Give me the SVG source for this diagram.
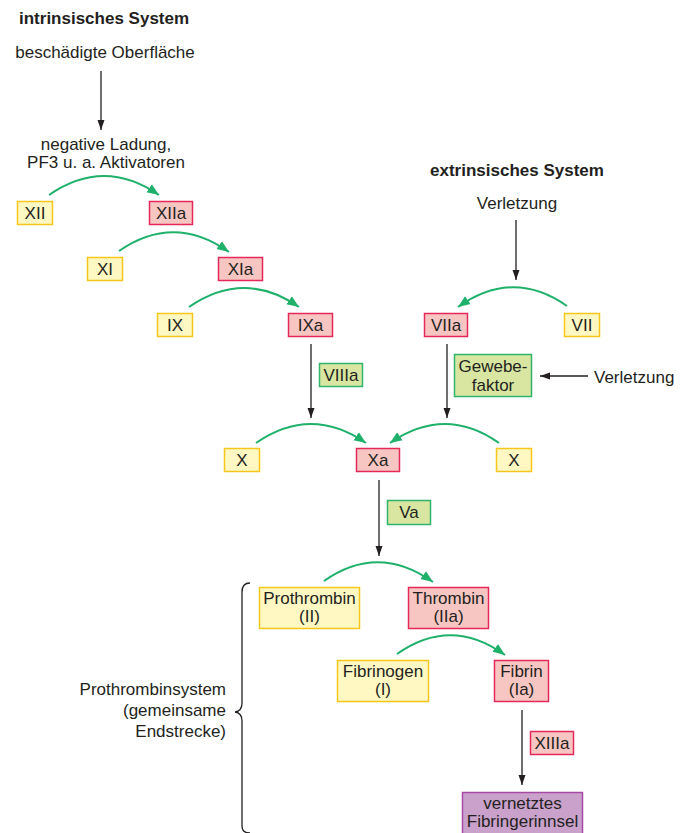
<svg xmlns="http://www.w3.org/2000/svg" width="680" height="833" viewBox="0 0 680 833">
<defs>
<style>
text{font-family:"Liberation Sans",Arial,sans-serif;font-size:17px;fill:#231f20;text-anchor:middle}
.b{font-weight:bold}
.l{text-anchor:start}
.r{text-anchor:end}
.y{fill:#fff8c2;stroke:#f6c61c;stroke-width:1.5}
.p{fill:#f8c6c2;stroke:#e5285a;stroke-width:1.5}
.g{fill:#d8e6a2;stroke:#30b46c;stroke-width:1.5}
.v{fill:#c9a1cb;stroke:#a64aa6;stroke-width:1.5}
.k{fill:none;stroke:#231f20;stroke-width:1.3}
.gr{fill:none;stroke:#1fb06a;stroke-width:2}
</style>
<marker id="ak" viewBox="0 0 10 10" refX="10" refY="5" markerWidth="10" markerHeight="10" markerUnits="userSpaceOnUse" orient="auto"><path d="M0,1.5 L10,5 L0,8.5 Z" fill="#231f20"/></marker>
<marker id="ag" viewBox="0 0 10 10" refX="10" refY="5" markerWidth="12" markerHeight="12" markerUnits="userSpaceOnUse" orient="auto"><path d="M0,1 L10,5 L0,9 Z" fill="#1fb06a"/></marker>
</defs>

<g id="labels">
<text class="b l" x="19" y="24">intrinsisches System</text>
<text x="105" y="58">beschädigte Oberfläche</text>
<text x="106" y="150">negative Ladung,</text>
<text x="106" y="168">PF3 u. a. Aktivatoren</text>
<text class="b l" x="430" y="176">extrinsisches System</text>
<text x="517" y="209">Verletzung</text>
<text class="l" x="594" y="383">Verletzung</text>
<text class="r" x="226" y="695">Prothrombinsystem</text>
<text class="r" x="226" y="716">(gemeinsame</text>
<text class="r" x="226" y="737">Endstrecke)</text>
</g>

<g id="connectors">
<line class="k" x1="101" y1="71" x2="101" y2="130" marker-end="url(#ak)"/>
<line class="k" x1="516" y1="220" x2="516" y2="280" marker-end="url(#ak)"/>
<line class="k" x1="588" y1="376" x2="540" y2="376" marker-end="url(#ak)"/>
<line class="k" x1="311" y1="344" x2="311" y2="418" marker-end="url(#ak)"/>
<line class="k" x1="447" y1="344" x2="447" y2="418" marker-end="url(#ak)"/>
<line class="k" x1="379" y1="480" x2="379" y2="556" marker-end="url(#ak)"/>
<line class="k" x1="522" y1="710" x2="522" y2="785" marker-end="url(#ak)"/>
<path class="gr" d="M49,195 Q104,157 159,195" marker-end="url(#ag)"/>
<path class="gr" d="M119,251 Q174,213 229,252" marker-end="url(#ag)"/>
<path class="gr" d="M189,307 Q244,269 299,307" marker-end="url(#ag)"/>
<path class="gr" d="M567,306 Q513,268 458,307" marker-end="url(#ag)"/>
<path class="gr" d="M256,443 Q311,405 366,443" marker-end="url(#ag)"/>
<path class="gr" d="M499,443 Q445,405 390,443" marker-end="url(#ag)"/>
<path class="gr" d="M324,581 Q378,543 433,582" marker-end="url(#ag)"/>
<path class="gr" d="M397,654 Q451,616 505,655" marker-end="url(#ag)"/>
<path class="k" d="M250,583 Q242,583 242,592 L242,703 Q242,711 235,712 Q242,713 242,721 L242,826 Q242,833 250,833"/>
</g>

<g id="XII"><rect class="y" x="17.5" y="201.5" width="35" height="23"/><text x="35" y="219">XII</text></g>
<g id="XIIa"><rect class="p" x="149.5" y="201.5" width="43" height="23"/><text x="171" y="219">XIIa</text></g>
<g id="XI"><rect class="y" x="87.5" y="257.5" width="35" height="23"/><text x="105" y="275">XI</text></g>
<g id="XIa"><rect class="p" x="218.5" y="257.5" width="44" height="23"/><text x="240.5" y="275">XIa</text></g>
<g id="IX"><rect class="y" x="157.5" y="313.5" width="35" height="23"/><text x="175" y="331">IX</text></g>
<g id="IXa"><rect class="p" x="288.5" y="313.5" width="44" height="23"/><text x="310.5" y="331">IXa</text></g>
<g id="VIIa"><rect class="p" x="424.5" y="313.5" width="43" height="23"/><text x="446" y="331">VIIa</text></g>
<g id="VII"><rect class="y" x="564.5" y="313.5" width="35" height="23"/><text x="582" y="331">VII</text></g>
<g id="VIIIa"><rect class="g" x="319.5" y="363.5" width="43" height="23"/><text x="341" y="381">VIIIa</text></g>
<g id="Gewebefaktor"><rect class="g" x="454.5" y="354.5" width="77" height="42"/><text x="493" y="372">Gewebe-</text><text x="493" y="391">faktor</text></g>
<g id="X-left"><rect class="y" x="224.5" y="448.5" width="35" height="23"/><text x="242" y="466">X</text></g>
<g id="Xa"><rect class="p" x="356.5" y="448.5" width="43" height="23"/><text x="378" y="466">Xa</text></g>
<g id="X-right"><rect class="y" x="496.5" y="448.5" width="35" height="23"/><text x="514" y="466">X</text></g>
<g id="Va"><rect class="g" x="387.5" y="500.5" width="43" height="24"/><text x="409" y="518">Va</text></g>
<g id="Prothrombin"><rect class="y" x="259.5" y="587.5" width="100" height="41"/><text x="309.5" y="604">Prothrombin</text><text x="309.5" y="622">(II)</text></g>
<g id="Thrombin"><rect class="p" x="408.5" y="587.5" width="80" height="41"/><text x="448.5" y="604">Thrombin</text><text x="448.5" y="622">(IIa)</text></g>
<g id="Fibrinogen"><rect class="y" x="337.5" y="660.5" width="91" height="41"/><text x="383" y="677">Fibrinogen</text><text x="383" y="695">(I)</text></g>
<g id="Fibrin"><rect class="p" x="494.5" y="660.5" width="54" height="41"/><text x="521.5" y="677">Fibrin</text><text x="521.5" y="695">(Ia)</text></g>
<g id="XIIIa"><rect class="p" x="530.5" y="731.5" width="43" height="23"/><text x="552" y="749">XIIIa</text></g>
<g id="Fibringerinnsel"><rect class="v" x="462.5" y="792.5" width="120" height="44"/><text x="522.5" y="809">vernetztes</text><text x="522.5" y="827">Fibringerinnsel</text></g>
</svg>
